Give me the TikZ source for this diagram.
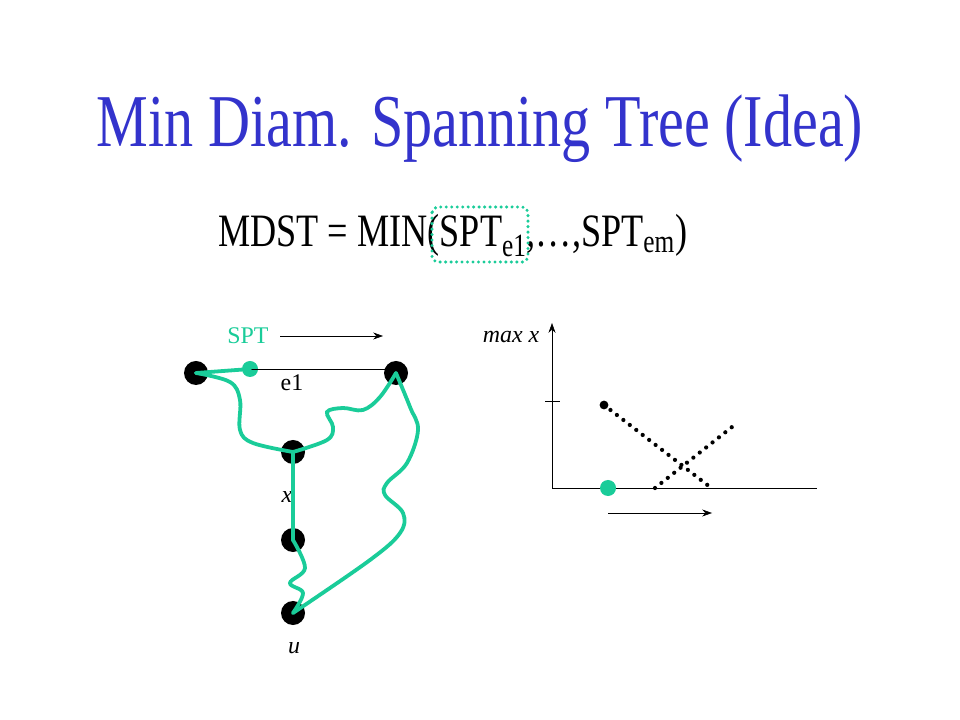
\documentclass[tikz,border=0pt]{standalone}
\usepackage{fontspec}
\setmainfont{Liberation Serif}
\newfontfamily\narrowfont[FakeStretch=0.78]{Liberation Serif}
\usepackage{xcolor}
\usetikzlibrary{arrows.meta}

\definecolor{titleblue}{RGB}{51,51,204}
\definecolor{sptgreen}{RGB}{26,204,153}

\begin{document}
\begin{tikzpicture}[
    x=0.025cm, y=-0.025cm,
    vertex/.style={circle, fill=black, inner sep=0pt, minimum size=0.6cm},
    gdot/.style={circle, fill=sptgreen, inner sep=0pt, minimum size=0.4cm},
    pdot/.style={circle, fill=black, inner sep=0pt, minimum size=0.22cm},
    path/.style={draw=sptgreen, line width=2.7pt, line cap=round},
    arrow/.style={-{Stealth[length=7pt, width=5pt]}, thin},
    dotline/.style={line width=3pt, line cap=round, dash pattern=on 0pt off 5.8pt},
    lbl/.style={font=\fontsize{17}{20}\selectfont, inner sep=0pt}
]
\useasboundingbox (0,0) rectangle (960,720);

% Titel und Formel
\node[anchor=base, text=titleblue, font=\narrowfont\fontsize{53}{60}\selectfont] (title) at (480,147) {Min Diam. Spanning Tree (Idea)};
\node[anchor=base west, inner sep=0pt, font=\narrowfont\fontsize{33}{38}\selectfont] (mdst) at (218,247) {MDST = MIN(SPT\textsubscript{e1},\ldots,SPT\textsubscript{em})};
\draw[draw=sptgreen, line width=2.4pt, line cap=round, dash pattern=on 0pt off 3.9pt, rounded corners=4pt] (432,207) rectangle (528,262);

% Graph
\node[vertex] (a) at (196,373) {};
\node[gdot] (g) at (250,369) {};
\node[vertex] (b) at (396,373) {};
\node[vertex] (x) at (293,452) {};
\node[vertex] (y) at (293,540) {};
\node[vertex] (u) at (293,613) {};

\node[lbl, text=sptgreen] (spt) at (248,336) {SPT};
\coordinate (s1) at (280,336);
\coordinate (s2) at (383,336);
\draw[arrow] (s1) -- (s2);
\node[lbl] (e1) at (292,383) {e1};
\node[lbl, font=\fontsize{17}{20}\itshape] (xl) at (287,497) {x};
\node[lbl, font=\fontsize{17}{20}\itshape] (ul) at (294,648) {u};

\draw[thin] (g.center) -- (b.center |- g.center);
\draw[path] (a.center) -- (g.center);
\draw[path] plot[smooth, tension=0.6] coordinates {(a.center) (230,382) (240,400) (240,430) (253,443) (x.center)};
\draw[path] plot[smooth, tension=0.6] coordinates {(x.center) (327,440) (333,427) (327,412) (343,408) (363,410) (380,397) (b.center)};
\draw[path] plot[smooth, tension=0.6] coordinates {(b.center) (410,407) (418,430) (407,463) (387,483) (385,495) (403,513) (400,533) (370,560) (u.center)};
\draw[path] plot[smooth, tension=0.6] coordinates {(y.center) (305,568) (290,583) (303,593) (u.center)};
\draw[path] (x.center) -- (y.center);

% Diagramm
\coordinate (o) at (552,488);
\coordinate (ytop) at (552,323);
\coordinate (xend) at (817,488);
\draw[arrow] (o) -- (ytop);
\draw[thin] (o) -- (xend);
\coordinate (t1) at (545,401);
\coordinate (t2) at (560,401);
\draw[thin] (t1) -- (t2);
\node[lbl, font=\fontsize{17}{20}\itshape] (maxx) at (511,337) {max x};

\node[pdot] (p) at (604,405) {};
\coordinate (p1) at (710,487);
\coordinate (q0) at (655,488);
\coordinate (q1) at (732,427);
\draw[dotline] (p.center) -- (p1);
\draw[dotline] (q0) -- (q1);
\node[gdot] (m) at (608,488) {};
\coordinate (r1) at (608,513);
\coordinate (r2) at (712,513);
\draw[arrow] (r1) -- (r2);

\end{tikzpicture}
\end{document}
